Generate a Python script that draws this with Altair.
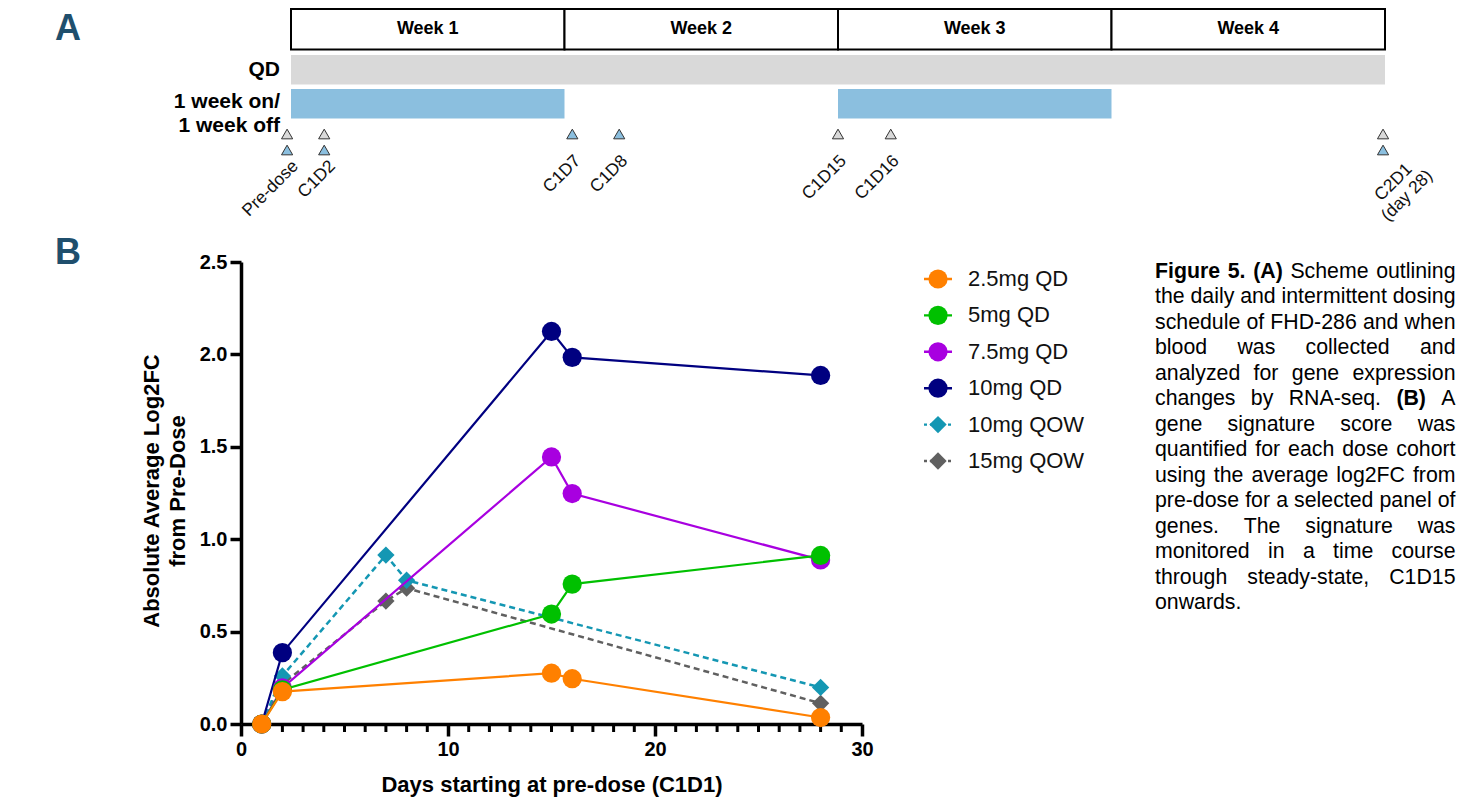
import altair as alt
import pandas as pd

# ---------------- data: panel B ----------------
series_names = ["2.5mg QD", "5mg QD", "7.5mg QD", "10mg QD", "10mg QOW", "15mg QOW"]
series_colors = ["#FF8000", "#00C000", "#A800E0", "#000080", "#1497B3", "#606060"]
series_shapes = ["circle", "circle", "circle", "circle", "diamond", "diamond"]
series_dash = ["solid", "solid", "solid", "solid", "dash", "dash"]

days_qd = [1, 2, 15, 16, 28]
days_qow = [1, 2, 7, 8, 28]
qd_2_5 = [0.0, 0.175, 0.275, 0.245, 0.035]
qd_5 = [0.0, 0.185, 0.595, 0.757, 0.912]
qd_7_5 = [0.0, 0.195, 1.445, 1.247, 0.888]
qd_10 = [0.0, 0.386, 2.124, 1.984, 1.886]
qow_10 = [0.0, 0.26, 0.914, 0.778, 0.198]
qow_15 = [0.0, 0.215, 0.665, 0.735, 0.112]
series_values = [qd_2_5, qd_5, qd_7_5, qd_10, qow_10, qow_15]
series_days = [days_qd, days_qd, days_qd, days_qd, days_qow, days_qow]

x_ticks = [0, 10, 20, 30]
y_ticks = [0.0, 0.5, 1.0, 1.5, 2.0, 2.5]

# ---------------- data: panel A (scheme) ----------------
week_labels = ["Week 1", "Week 2", "Week 3", "Week 4"]
week_start = [0, 7, 14, 21]
week_end = [7, 14, 21, 28]
qd_start, qd_end = [0], [28]
onoff_start = [0, 14]
onoff_end = [7, 21]
tp_labels = ["Pre-dose", "C1D2", "C1D7", "C1D8", "C1D15", "C1D16", "C2D1\n(day 28)"]
tp_pos = [-0.1, 0.85, 7.2, 8.4, 14.0, 15.35, 27.95]
tp_qd = [True, True, False, False, True, True, True]
tp_onoff = [True, True, True, True, False, False, True]

caption_lines = [
    "Figure 5. (A) Scheme outlining",
    "the daily and intermittent dosing",
    "schedule of FHD-286 and when",
    "blood was collected and",
    "analyzed for gene expression",
    "changes by RNA-seq. (B) A",
    "gene signature score was",
    "quantified for each dose cohort",
    "using the average log2FC from",
    "pre-dose for a selected panel of",
    "genes. The signature was",
    "monitored in a time course",
    "through steady-state, C1D15",
    "onwards.",
]
bold_words = {"Figure", "5.", "(A)", "(B)"}

# ---------------- layout helpers ----------------
FONT = "Liberation Sans, Arial, Helvetica, sans-serif"
W, H = 1448, 792


def P(v):
    return v - 8  # page pixel -> chart pixel


GRAY = "#d9d9d9"
BLUE = "#8bbfdf"
NAVY_T = "#1f4f6d"

# ---------------- panel B ----------------
def xB():
    return alt.X(
        "day:Q",
        scale=alt.Scale(domain=[0, 30], range=[P(241), P(862)], nice=False, zero=False),
        axis=alt.Axis(values=x_ticks, format="d", title=None, grid=False,
                      offset=P(724) - H, domainColor="black", domainWidth=3.5,
                      tickColor="black", tickWidth=3.5, tickSize=12, labelPadding=3,
                      labelFont=FONT, labelFontSize=20, labelFontWeight="bold",
                      labelColor="black", labelFlush=False, labelOverlap=False),
    )


def yB():
    return alt.Y(
        "value:Q",
        scale=alt.Scale(domain=[0, 2.5], range=[P(724), P(262)], nice=False, zero=False),
        axis=alt.Axis(values=y_ticks, format=".1f", title=None, grid=False,
                      offset=-P(241), domainColor="black", domainWidth=3.5,
                      tickColor="black", tickWidth=3.5, tickSize=11, labelPadding=3,
                      labelFont=FONT, labelFontSize=20, labelFontWeight="bold",
                      labelColor="black", labelFlush=False, labelOverlap=False),
    )


minor_df = pd.DataFrame({"day": [d for d in range(1, 30) if d not in x_ticks]})
layersB = [
    alt.Chart(minor_df).mark_rule(color="black", strokeWidth=3).encode(
        x=xB(), y=alt.value(P(725)), y2=alt.value(P(732)))
]
for i in reversed(range(len(series_names))):
    df = pd.DataFrame({"day": series_days[i], "value": series_values[i]})
    lkw = dict(color=series_colors[i], strokeWidth=2.2)
    if series_dash[i] == "dash":
        lkw["strokeDash"] = [6, 4]
        lkw["strokeWidth"] = 2.5
    layersB.append(alt.Chart(df).mark_line(**lkw).encode(x=xB(), y=yB()))
    size = 370 if series_shapes[i] == "circle" else 300
    layersB.append(alt.Chart(df).mark_point(filled=True, shape=series_shapes[i], size=size,
                                            color=series_colors[i], opacity=1).encode(x=xB(), y=yB()))
groupB = alt.layer(*layersB)

# ---------------- legend ----------------
leg_df = pd.DataFrame({"series": series_names, "idx": list(range(len(series_names))),
                       "dash": series_dash})
leg_y = alt.Y("idx:Q", scale=alt.Scale(domain=[0, 5], range=[P(279), P(461)]), axis=None)
leg_color = alt.Color("series:N", scale=alt.Scale(domain=series_names, range=series_colors), legend=None)
leg_base = alt.Chart(leg_df)
groupLeg = alt.layer(
    leg_base.mark_rule(strokeWidth=2.4).encode(
        x=alt.value(P(924)), x2=alt.value(P(952)), y=leg_y, color=leg_color,
        strokeDash=alt.StrokeDash("dash:N", scale=alt.Scale(domain=["solid", "dash"],
                                                            range=[[1, 0], [3, 3]]), legend=None)),
    leg_base.mark_point(filled=True, opacity=1).encode(
        x=alt.value(P(938)), y=leg_y, color=leg_color,
        shape=alt.Shape("series:N", scale=alt.Scale(domain=series_names, range=series_shapes), legend=None),
        size=alt.Size("dash:N", scale=alt.Scale(domain=["solid", "dash"], range=[370, 300]), legend=None)),
    leg_base.mark_text(align="left", baseline="middle", font=FONT, fontSize=22, color="#111111").encode(
        x=alt.value(P(968)), y=leg_y, text="series:N"),
)

# ---------------- caption (justified) ----------------
REG = {' ': 278, '(': 333, ')': 333, ',': 278, '-': 333, '.': 278,
       'A': 667, 'B': 667, 'C': 722, 'D': 722, 'E': 667, 'F': 611, 'G': 778, 'H': 722, 'I': 278,
       'N': 722, 'R': 722, 'S': 667, 'T': 611,
       'a': 556, 'b': 556, 'c': 500, 'd': 556, 'e': 556, 'f': 278, 'g': 556, 'h': 556, 'i': 222,
       'j': 222, 'k': 500, 'l': 222, 'm': 833, 'n': 556, 'o': 556, 'p': 556, 'q': 556, 'r': 333,
       's': 500, 't': 278, 'u': 556, 'v': 500, 'w': 722, 'x': 500, 'y': 500, 'z': 500}
BOLD = {' ': 278, '(': 333, ')': 333, '.': 278, 'A': 722, 'B': 722, 'F': 611, 'i': 278,
        'g': 611, 'u': 611, 'r': 389, 'e': 556}
CAP_FS = 21.3
CAP_L, CAP_R = P(1155), P(1455.5)
CAP_Y0, CAP_DY = P(272), 25.46


def tw(word, bold):
    tab = BOLD if bold else REG
    return sum(tab.get(c, 556) for c in word) / 1000.0 * CAP_FS


rows = []
for li, line in enumerate(caption_lines):
    words = line.split()
    y = CAP_Y0 + li * CAP_DY
    if li == len(caption_lines) - 1 or len(words) == 1:
        x = CAP_L
        for w in words:
            b = w in bold_words
            rows.append({"w": w, "x": x, "y": y, "kind": "bold" if b else "left"})
            x += tw(w, b) + tw(" ", False)
        continue
    widths = [tw(w, w in bold_words) for w in words]
    gap = (CAP_R - CAP_L - sum(widths)) / (len(words) - 1)
    x = CAP_L
    for k, w in enumerate(words):
        b = w in bold_words
        if k == len(words) - 1:
            rows.append({"w": w, "x": CAP_R, "y": y, "kind": "right"})
        else:
            rows.append({"w": w, "x": x, "y": y, "kind": "bold" if b else "left"})
        x += widths[k] + gap
cap_df = pd.DataFrame(rows)


def cap_layer(kind, align, weight):
    return alt.Chart(cap_df).transform_filter(alt.datum.kind == kind).mark_text(
        align=align, baseline="middle", font=FONT, fontSize=CAP_FS, fontWeight=weight, color="black"
    ).encode(x=alt.X("x:Q", scale=None), y=alt.Y("y:Q", scale=None), text="w:N")


# free texts (axis titles, panel letters, row labels)
groupText = alt.layer(
    cap_layer("left", "left", "normal"),
    cap_layer("bold", "left", "bold"),
    cap_layer("right", "right", "normal"),
    alt.Chart(pd.DataFrame({"t": ["A", "B"], "y": [P(29), P(253)]})).mark_text(
        font=FONT, fontSize=36, fontWeight="bold", color=NAVY_T, align="center", baseline="middle"
    ).encode(x=alt.value(P(68)), y=alt.Y("y:Q", scale=None), text="t:N"),
    alt.Chart(pd.DataFrame({"t": ["QD", "1 week on/", "1 week off"], "y": [P(70), P(102), P(126)]})).mark_text(
        font=FONT, fontSize=21, fontWeight="bold", color="black", align="right", baseline="middle"
    ).encode(x=alt.value(P(280)), y=alt.Y("y:Q", scale=None), text="t:N"),
    alt.Chart(pd.DataFrame({"t": ["Absolute Average Log2FC", "from Pre-Dose"], "x": [P(152), P(178)]})).mark_text(
        font=FONT, fontSize=22, fontWeight="bold", color="black", align="center", baseline="middle", angle=270
    ).encode(x=alt.X("x:Q", scale=None), y=alt.value(P(491)), text="t:N"),
    alt.Chart(pd.DataFrame({"t": ["Days starting at pre-dose (C1D1)"]})).mark_text(
        font=FONT, fontSize=22, fontWeight="bold", color="black", align="center", baseline="middle"
    ).encode(x=alt.value(P(552)), y=alt.value(P(785)), text="t:N"),
)

# ---------------- panel A (scheme) ----------------
xA_scale = alt.Scale(domain=[0, 28], range=[P(291), P(1385)], nice=False, zero=False)


def xA(field):
    return alt.X(field, scale=xA_scale, axis=None)


weeks_df = pd.DataFrame({"label": week_labels, "s": week_start, "e": week_end})
weeks_df["mid"] = (weeks_df["s"] + weeks_df["e"]) / 2
qd_df = pd.DataFrame({"s": qd_start, "e": qd_end})
onoff_df = pd.DataFrame({"s": onoff_start, "e": onoff_end})

top_gray, top_blue, bot_blue, lab_two, lab_one, lab_multi = [], [], [], [], [], []
for lab, pos, q, o in zip(tp_labels, tp_pos, tp_qd, tp_onoff):
    if q:
        top_gray.append(pos)
        if o:
            bot_blue.append(pos)
    elif o:
        top_blue.append(pos)
    row = {"s": pos, "label": lab}
    if "\n" in lab:
        lab_multi.append(row)
    elif q and o:
        lab_two.append(row)
    else:
        lab_one.append(row)


def tri(positions, fill, ypx):
    return alt.Chart(pd.DataFrame({"s": positions})).mark_point(
        shape="triangle-up", size=125, filled=True, fill=fill, stroke="#333333", strokeWidth=1, opacity=1
    ).encode(x=xA("s:Q"), y=alt.value(ypx))


def tp_text(rows_, ypx, align, dx):
    return alt.Chart(pd.DataFrame(rows_)).mark_text(
        font=FONT, fontSize=17.5, color="#111111", align=align, baseline="middle", angle=315,
        dx=dx, lineBreak="\n", lineHeight=19
    ).encode(x=xA("s:Q"), y=alt.value(ypx), text="label:N")


groupA = alt.layer(
    alt.Chart(weeks_df).mark_rect(fill="white", stroke="black", strokeWidth=2).encode(
        x=xA("s:Q"), x2="e:Q", y=alt.value(P(9)), y2=alt.value(P(49.5))),
    alt.Chart(weeks_df).mark_text(font=FONT, fontSize=18, fontWeight="bold", color="black",
                                  baseline="middle").encode(x=xA("mid:Q"), y=alt.value(P(29)), text="label:N"),
    alt.Chart(qd_df).mark_rect(fill=GRAY).encode(x=xA("s:Q"), x2="e:Q", y=alt.value(P(55)), y2=alt.value(P(84.5))),
    alt.Chart(onoff_df).mark_rect(fill=BLUE).encode(x=xA("s:Q"), x2="e:Q", y=alt.value(P(89)), y2=alt.value(P(118.5))),
    tri(top_gray, GRAY, P(134)),
    tri(top_blue, BLUE, P(134)),
    tri(bot_blue, BLUE, P(150)),
    tp_text(lab_two, P(172), "right", 12),
    tp_text(lab_one, P(164), "right", 8),
    tp_text(lab_multi, P(193), "center", 15),
)

chart = alt.layer(groupA, groupB, groupLeg, groupText).resolve_scale(
    x="independent", y="independent", color="independent", shape="independent",
    strokeDash="independent", size="independent"
).properties(
    width=W, height=H, autosize=alt.AutoSizeParams(type="none"), padding=0
).configure_view(stroke=None, strokeWidth=0)

chart.save("out.html", embed_options={"renderer": "svg", "actions": False})
